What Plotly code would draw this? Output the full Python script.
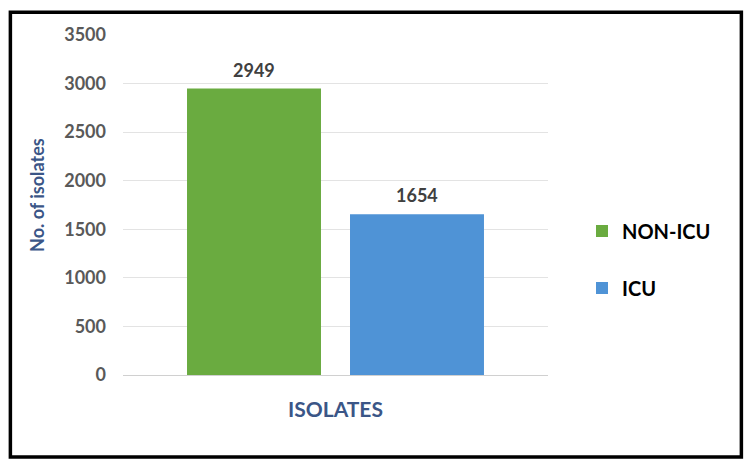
import plotly.graph_objects as go

category = ["ISOLATES"]
series_names = ["NON-ICU", "ICU"]
non_icu = [2949]
icu = [1654]
y_ticks = [0, 500, 1000, 1500, 2000, 2500, 3000, 3500]

colors = ["#6aab40", "#4f93d6"]
FONT = "Lato"

fig = go.Figure()
for name, vals, col in zip(series_names, [non_icu, icu], colors):
    fig.add_trace(go.Bar(
        x=category, y=vals, name=f"<b>{name}</b>", legendgroup=name,
        marker=dict(color=col, line=dict(width=0)),
    ))

# data labels
for i, vals in enumerate([non_icu, icu]):
    for c, v in zip(category, vals):
        fig.add_annotation(
            x=c, y=v, xref="x", yref="y", text=f"<b>{v}</b>",
            showarrow=False, yanchor="bottom", yshift=6,
            xshift=(-1 if i == 0 else 1) * 81.5,
            font=dict(family=FONT, size=18, color="#404040"),
        )

# y-axis title
fig.add_annotation(
    x=-0.202, y=0.53, xref="paper", yref="paper", text="<b>No. of isolates</b>",
    xanchor="center",
    textangle=-90, showarrow=False,
    font=dict(family=FONT, size=18, color="#3b5687"),
)

# frame
fig.add_shape(type="rect", xref="paper", yref="paper",
              x0=-0.265, x1=1.455, y0=-0.241, y1=1.067,
              line=dict(color="black", width=3.5))

fig.update_layout(
    width=750, height=468,
    margin=dict(l=123, r=202, t=35, b=93),
    paper_bgcolor="white", plot_bgcolor="white",
    barmode="group", bargap=0.233, bargroupgap=0.178,
    font=dict(family=FONT),
    showlegend=True,
    legend=dict(
        x=1.08, y=0.34, xanchor="left", yanchor="middle",
        traceorder="grouped", tracegroupgap=28,
        font=dict(family=FONT, size=20, color="black"),
        itemwidth=30,
    ),
    xaxis=dict(
        showgrid=False, showline=False, zeroline=False,
        tickfont=dict(family=FONT, size=21, color="#3b5687", weight="bold"),
        ticklabelstandoff=20, ticks="",
    ),
    yaxis=dict(
        range=[0, 3500], tickvals=y_ticks,
        showgrid=True, gridcolor="#e3e3e3", gridwidth=1,
        zeroline=True, zerolinecolor="#d0d0d0", zerolinewidth=1,
        tickfont=dict(family=FONT, size=18, color="#595959", weight="bold"),
        ticklabelstandoff=16, ticks="",
    ),
)

fig.write_html("out.html")
